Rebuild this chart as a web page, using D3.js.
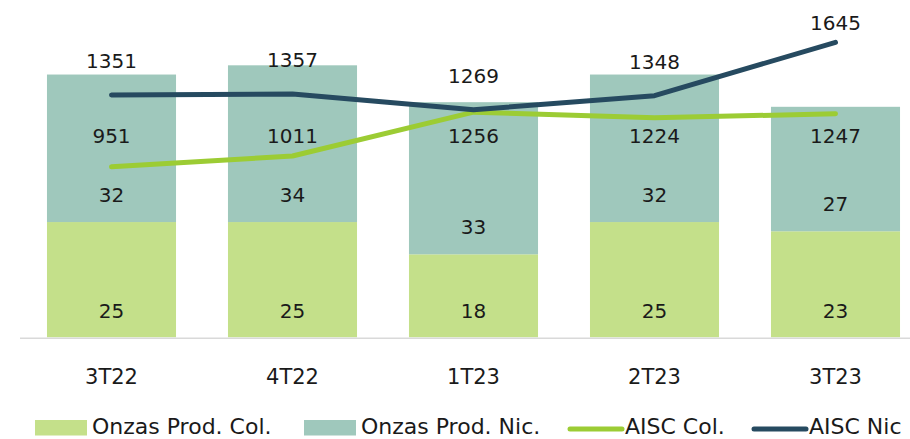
<!DOCTYPE html>
<html>
<head>
<meta charset="utf-8">
<script src="https://cdn.jsdelivr.net/npm/d3@7"></script>
<style>
  body { margin: 0; background: #fff; }
  svg text { font-family: "DejaVu Sans", sans-serif; fill: #1a1a1a; }
</style>
</head>
<body>
<div class="container"></div>
<script>
var quarters = ["3T22", "4T22", "1T23", "2T23", "3T23"];
var onzasCol = [25, 25, 18, 25, 23];
var onzasNic = [32, 34, 33, 32, 27];
var aiscCol = [951, 1011, 1256, 1224, 1247];
var aiscNic = [1351, 1357, 1269, 1348, 1645];

var width = 910, height = 439;
var colorCol = "#c4e08a", colorNic = "#9fc8bc";
var lineCol = "#9ccc34", lineNic = "#264a60";
var fontSize = 20;

var svg = d3.select(".container").append("svg")
  .attr("width", width).attr("height", height);

var x = d3.scaleBand().domain(quarters).range([21, 926]).paddingInner(0.287).paddingOuter(0.1435);
var y = d3.scaleLinear().domain([0, 70]).range([337.3, 14.6]);
var y2 = d3.scaleLinear().domain([0, 1800]).range([337.3, 14.6]);

var data = quarters.map(function(q, i) {
  return {q: q, col: onzasCol[i], nic: onzasNic[i], aCol: aiscCol[i], aNic: aiscNic[i]};
});

// stacked bars
var bars = svg.append("g");
bars.selectAll(".col").data(data).enter().append("rect")
  .attr("x", d => x(d.q)).attr("width", x.bandwidth())
  .attr("y", d => y(d.col)).attr("height", d => y(0) - y(d.col))
  .attr("fill", colorCol);
bars.selectAll(".nic").data(data).enter().append("rect")
  .attr("x", d => x(d.q)).attr("width", x.bandwidth())
  .attr("y", d => y(d.col + d.nic)).attr("height", d => y(d.col) - y(d.col + d.nic))
  .attr("fill", colorNic);

// baseline
svg.append("line")
  .attr("x1", 20).attr("x2", width)
  .attr("y1", y(0) + 1).attr("y2", y(0) + 1)
  .attr("stroke", "#d9d9d9").attr("stroke-width", 1.5);

// bar labels (inside base)
var cx = d => x(d.q) + x.bandwidth() / 2;
svg.selectAll(".lc").data(data).enter().append("text")
  .attr("x", cx).attr("y", d => y(0) - 19.5)
  .attr("text-anchor", "middle").style("font-size", fontSize + "px")
  .text(d => d.col);
svg.selectAll(".ln").data(data).enter().append("text")
  .attr("x", cx).attr("y", d => y(d.col) - 20)
  .attr("text-anchor", "middle").style("font-size", fontSize + "px")
  .text(d => d.nic);

// lines
var lineA = d3.line().x(cx).y(d => y2(d.aCol));
var lineB = d3.line().x(cx).y(d => y2(d.aNic));
svg.append("path").datum(data).attr("d", lineA)
  .attr("fill", "none").attr("stroke", lineCol).attr("stroke-width", 5)
  .attr("stroke-linecap", "round").attr("stroke-linejoin", "round");
svg.append("path").datum(data).attr("d", lineB)
  .attr("fill", "none").attr("stroke", lineNic).attr("stroke-width", 5)
  .attr("stroke-linecap", "round").attr("stroke-linejoin", "round");

// line labels
svg.selectAll(".la").data(data).enter().append("text")
  .attr("x", cx).attr("y", 143)
  .attr("text-anchor", "middle").style("font-size", fontSize + "px")
  .text(d => d.aCol);
svg.selectAll(".lb").data(data).enter().append("text")
  .attr("x", cx).attr("y", d => Math.max(y2(d.aNic) - 27, 30))
  .attr("text-anchor", "middle").style("font-size", fontSize + "px")
  .text(d => d.aNic);

// x axis labels
svg.selectAll(".xl").data(data).enter().append("text")
  .attr("x", cx).attr("y", 383.5)
  .attr("text-anchor", "middle").style("font-size", "21px")
  .text(d => d.q);

// legend
var legend = [
  {name: "Onzas Prod. Col.", type: "rect", color: colorCol, x: 35},
  {name: "Onzas Prod. Nic.", type: "rect", color: colorNic, x: 304},
  {name: "AISC Col.", type: "line", color: lineCol, x: 568},
  {name: "AISC Nic", type: "line", color: lineNic, x: 752}
];
var lg = svg.append("g");
legend.forEach(function(l) {
  if (l.type === "rect") {
    lg.append("rect").attr("x", l.x).attr("y", 420).attr("width", 52).attr("height", 15.5).attr("fill", l.color);
  } else {
    lg.append("line").attr("x1", l.x + 2).attr("x2", l.x + 54).attr("y1", 429).attr("y2", 429)
      .attr("stroke", l.color).attr("stroke-width", 5).attr("stroke-linecap", "round");
  }
  lg.append("text").attr("x", l.x + 57).attr("y", 433.5).style("font-size", "22px").text(l.name);
});
</script>
</body>
</html>
